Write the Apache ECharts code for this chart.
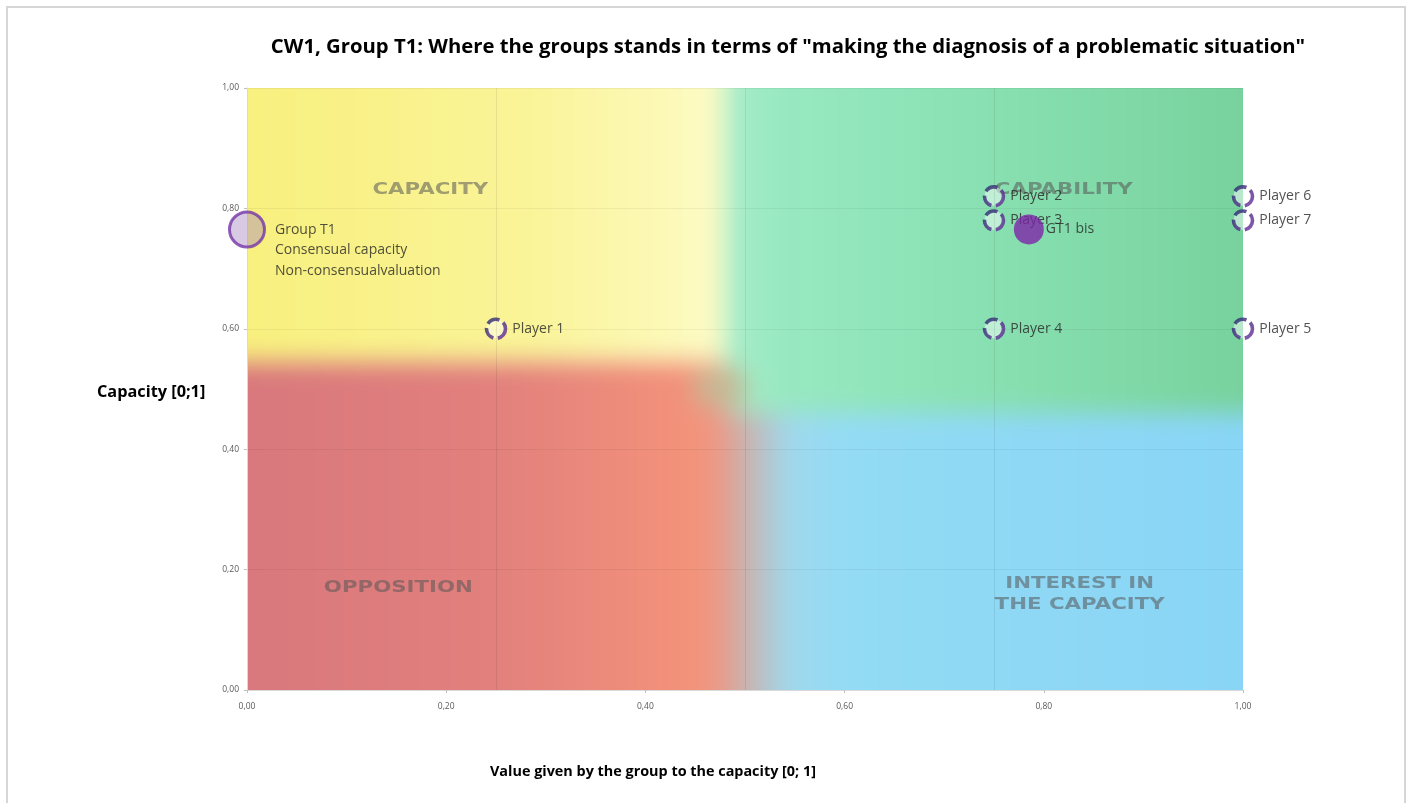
<!DOCTYPE html>
<html>
<head>
<meta charset="utf-8">
<script src="https://cdn.jsdelivr.net/npm/echarts@6/dist/echarts.min.js"></script>
<style>
  html, body { margin: 0; padding: 0; background: #fff; }
  #frame { position: absolute; left: 6px; top: 6px; width: 1400px; height: 820px; border: 2px solid #d6d6d6; box-sizing: border-box; }
  #main { position: absolute; left: 0; top: 0; width: 1411px; height: 803px; }
</style>
</head>
<body>
<div id="frame"></div>
<div id="main"></div>
<script>
// joueurs
var playerNames = ['Player 1', 'Player 2', 'Player 3', 'Player 4', 'Player 5', 'Player 6', 'Player 7'];
var playerX = [0.25, 0.75, 0.75, 0.75, 1.00, 1.00, 1.00];
var playerY = [0.60, 0.82, 0.78, 0.60, 0.60, 0.82, 0.78];

// groupe
var groupLabel = 'Group T1\nConsensual capacity\nNon-consensualvaluation';
var groupX = [0.00];
var groupY = [0.765];

var bisLabel = 'GT1 bis';
var bisX = [0.785];
var bisY = [0.765];

// zones du fond
var zoneNames = ['CAPACITY', 'CAPABILITY', 'OPPOSITION', 'INTEREST IN\nTHE CAPACITY'];
var zoneX = [0.184, 0.82, 0.152, 0.836];
var zoneY = [0.83, 0.83, 0.169, 0.158];

var quarterLines = [0.25, 0.5, 0.75];

function virgule(v) { return v.toFixed(2).replace('.', ','); }

var myChart = echarts.init(document.getElementById('main'));

var lignes = [];
for (var q = 0; q < quarterLines.length; q++) lignes.push({ xAxis: quarterLines[q] });

var ptsJoueurs = [];
for (var i = 0; i < playerNames.length; i++) ptsJoueurs.push({ name: playerNames[i], value: [playerX[i], playerY[i]] });

var anneau = new echarts.graphic.LinearGradient(0, 0, 1, 1, [
  { offset: 0, color: '#1f2d68' }, { offset: 0.5, color: '#4a2c86' }, { offset: 1, color: '#6e2e9e' }
]);

var option = {
  animation: false,
  title: [
    { text: 'CW1, Group T1: Where the groups stands in terms of "making the diagnosis of a problematic situation"',
      left: 783, top: 32, textAlign: 'center',
      textStyle: { fontFamily: 'Open Sans', fontWeight: 'bold', fontSize: 20.3, color: '#000' } },
    { text: 'Capacity [0;1]', left: 92, top: 379,
      textStyle: { fontFamily: 'Open Sans', fontWeight: 'bold', fontSize: 16.3, color: '#000' } },
    { text: 'Value given by the group to the capacity [0; 1]', left: 485, top: 760,
      textStyle: { fontFamily: 'Open Sans', fontWeight: 'bold', fontSize: 14.4, color: '#000' } }
  ],
  grid: { left: 247, right: 168, top: 88, bottom: 113 },
  xAxis: {
    type: 'value', min: 0, max: 1, interval: 0.2,
    axisLine: { show: true, lineStyle: { color: '#d9d9d9' } },
    axisTick: { show: true, length: 3, lineStyle: { color: '#bfbfbf' } },
    axisLabel: { formatter: virgule, fontSize: 8.5, color: '#595959', fontFamily: 'Open Sans', margin: 12 },
    splitLine: { show: false }
  },
  yAxis: {
    type: 'value', min: 0, max: 1, interval: 0.2,
    axisLine: { show: true, lineStyle: { color: '#d9d9d9' } },
    axisTick: { show: true, length: 3, lineStyle: { color: '#bfbfbf' } },
    axisLabel: { formatter: virgule, fontSize: 8.5, color: '#595959', fontFamily: 'Open Sans', margin: 8 },
    splitLine: { show: true, lineStyle: { color: 'rgba(0,0,0,0.05)' } }
  },
  series: [
    {
      name: 'reperes', type: 'scatter', data: [], z: 1, silent: true,
      markLine: { silent: true, symbol: 'none', label: { show: false },
        lineStyle: { color: 'rgba(0,0,0,0.08)', type: 'solid', width: 1 }, data: lignes }
    },
    {
      name: 'joueurs', type: 'scatter', clip: false, symbol: 'circle', symbolSize: 19, data: ptsJoueurs, z: 3,
      itemStyle: { color: 'rgba(255,255,255,0.6)', borderColor: anneau, borderWidth: 3.6, borderType: [13, 4.5] },
      label: { show: true, position: 'right', distance: 5, formatter: '{b}', fontFamily: 'Open Sans',
        fontSize: 14, color: '#262626' }
    },
    {
      name: 'groupe', type: 'scatter', clip: false, symbolSize: 35, data: [[groupX[0], groupY[0]]], z: 4,
      itemStyle: { color: 'rgba(165,135,190,0.55)', borderColor: '#7434a8', borderWidth: 3 },
      label: { show: true, position: 'right', distance: 9, formatter: groupLabel, fontFamily: 'Open Sans',
        fontSize: 14, color: '#262626', lineHeight: 20.5, verticalAlign: 'top', offset: [0, -10] }
    },
    {
      name: 'bis', type: 'scatter', clip: false, symbolSize: 30, data: [[bisX[0], bisY[0]]], z: 5,
      itemStyle: { color: '#7d24a8' },
      label: { show: true, position: 'right', distance: 2, formatter: bisLabel, fontFamily: 'Open Sans',
        fontSize: 14, color: '#262626' }
    }
  ]
};

myChart.setOption(option);

// image de fond : quatre quadrants flous
var c0 = myChart.convertToPixel({ xAxisIndex: 0, yAxisIndex: 0 }, [0, 1]);
var c1 = myChart.convertToPixel({ xAxisIndex: 0, yAxisIndex: 0 }, [1, 0]);
var W = Math.round(c1[0] - c0[0]), H = Math.round(c1[1] - c0[1]);
var P = 60;

function peindre(ctx, W, H, P) {
  function px(f) { return P + f * W; }
  function py(f) { return P + (1 - f) * H; }
  function hg(x0, x1, stops) {
    var g = ctx.createLinearGradient(px(x0), 0, px(x1), 0);
    for (var k = 0; k < stops.length; k++) g.addColorStop(stops[k][0], stops[k][1]);
    return g;
  }
  var gx = 0.48, ly = 0.545, ry = 0.46;
  // bande du bas : rouge -> gris -> bleu
  ctx.fillStyle = hg(0, 1, [[0, '#d9787d'], [0.25, '#e2807d'], [0.45, '#f4937a'], [0.475, '#eb9a88'],
    [0.505, '#c4b7b6'], [0.545, '#9fd9ee'], [0.6, '#93dbf4'], [1, '#89d5f6']]);
  ctx.fillRect(0, py(ly), W + 2 * P, H + 2 * P);
  // vert
  ctx.fillStyle = hg(gx, 1, [[0, '#a8edcb'], [0.1, '#98e9c1'], [0.55, '#87dfb0'], [1, '#78d29d']]);
  ctx.fillRect(px(gx), 0, W + 2 * P, py(ry));
  // jaune
  ctx.fillStyle = hg(0, gx, [[0, '#f8f07e'], [0.6, '#faf499'], [0.88, '#fcf9b8'], [1, '#fdfbc8']]);
  ctx.fillRect(0, 0, px(gx), py(ly));
  // centre brunatre
  ctx.fillStyle = '#c6b894';
  ctx.fillRect(px(0.45), py(0.53), px(0.5) - px(0.45), py(0.475) - py(0.53));
}

var src = document.createElement('canvas');
src.width = W + 2 * P; src.height = H + 2 * P;
peindre(src.getContext('2d'), W, H, P);

var fondCanvas = document.createElement('canvas');
fondCanvas.width = W; fondCanvas.height = H;
var fctx = fondCanvas.getContext('2d');
fctx.filter = 'blur(12px)';
fctx.drawImage(src, -P, -P);

var elements = [{
  type: 'image', x: c0[0], y: c0[1], z: -10, silent: true,
  style: { image: fondCanvas, width: W, height: H }
}];

// libelles des zones, places d'apres les axes
for (var z = 0; z < zoneNames.length; z++) {
  var p = myChart.convertToPixel({ xAxisIndex: 0, yAxisIndex: 0 }, [zoneX[z], zoneY[z]]);
  elements.push({
    type: 'text', x: p[0], y: p[1], scaleX: 1.42, z: -5, silent: true,
    style: {
      text: zoneNames[z], font: 'bold 15px "DejaVu Sans"', fill: 'rgba(85,85,85,0.55)',
      textAlign: 'center', textVerticalAlign: 'middle', align: 'center', verticalAlign: 'middle', lineHeight: 21
    }
  });
}
myChart.setOption({ graphic: elements });
</script>
</body>
</html>
